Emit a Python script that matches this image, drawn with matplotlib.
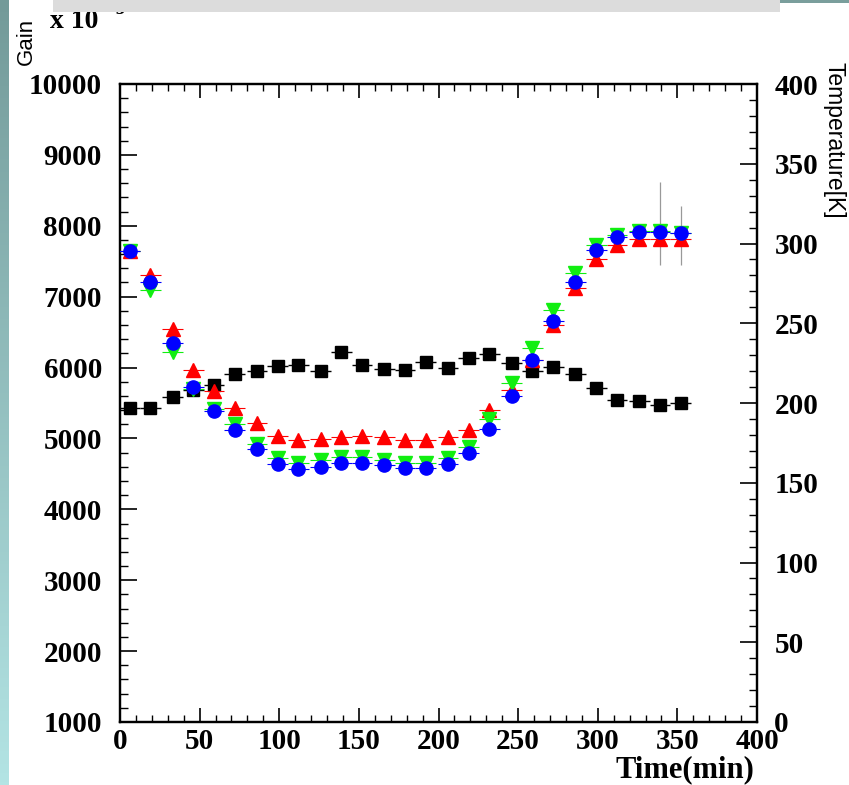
import numpy as np
import matplotlib
matplotlib.use("Agg")
import matplotlib.pyplot as plt
from matplotlib.ticker import MultipleLocator
from matplotlib.patches import Rectangle

W, H = 849, 785

# ======================= data ======================= #
time = [6, 19, 33, 46, 59, 72, 86, 99, 112, 126, 139, 152, 166, 179,
        192, 206, 219, 232, 246, 259, 272, 286, 299, 312, 326, 339, 352]

temp = [197, 197, 204, 208, 211, 218, 220, 223, 224, 220, 232, 224, 221.5, 221,
        226, 222, 228, 231, 225, 220, 222.5, 218, 209.5, 202, 201, 199, 200]

gain_red = [7650, 7300, 6550, 5965, 5670, 5425, 5215, 5035, 4980, 4990, 5015, 5035, 5015, 4980,
            4980, 5025, 5120, 5400, 5680, 6100, 6600, 7120, 7530, 7730, 7820, 7820, 7810]

gain_green = [7640, 7090, 6225, 5700, 5410, 5200, 4920, 4720, 4650, 4695, 4735, 4735, 4700, 4650,
              4650, 4720, 4885, 5270, 5780, 6270, 6810, 7330, 7730, 7870, 7920, 7920, 7900]

gain_blue = [7650, 7210, 6340, 5730, 5390, 5120, 4850, 4640, 4565, 4600, 4650, 4650, 4625, 4580,
             4580, 4635, 4800, 5140, 5600, 6105, 6650, 7200, 7660, 7845, 7915, 7915, 7905]

# vertical errors only visible on the last two points
err_lo = [0] * 25 + [470, 460]
err_hi = [0] * 25 + [700, 380]
xerr = 6.5

# ======================= figure ======================= #
fig = plt.figure(figsize=(W / 100, H / 100), dpi=100)
fig.patch.set_facecolor("white")

# slide decoration: teal strip on the left, grey title box on top
strip = fig.add_axes([0, 0, 9 / W, 1])
grad = np.linspace(0, 1, 256).reshape(-1, 1)
cmap = matplotlib.colors.LinearSegmentedColormap.from_list("s", ["#b3e4e4", "#739a99"])
strip.imshow(grad, aspect="auto", cmap=cmap, origin="lower")
strip.axis("off")
fig.patches.append(Rectangle((53 / W, 1 - 12 / H), 727 / W, 12 / H, transform=fig.transFigure,
                             facecolor="#dcdcdc", edgecolor="none", zorder=5))
fig.patches.append(Rectangle((780 / W, 1 - 2.5 / H), 69 / W, 2.5 / H, transform=fig.transFigure,
                             facecolor="#7a9e9c", edgecolor="none", zorder=5))

ax = fig.add_axes([120 / W, 1 - 722 / H, 637 / W, 638 / H])
ax2 = ax.twinx()

tickfont = dict(family="Liberation Serif", weight="bold", size=21)

# temperature on the right axis
ax2.errorbar(time, temp, xerr=xerr, fmt="s", color="black", ms=9, elinewidth=1,
             capsize=0, zorder=2)

# gain on the left axis
ax.set_zorder(ax2.get_zorder() + 1)
ax.patch.set_visible(False)
ax.errorbar(time, gain_red, xerr=xerr, fmt="^", color="#ff0000", ms=9.5, elinewidth=0.8,
            capsize=0, zorder=3)
ax.errorbar(time, gain_green, xerr=xerr, fmt="v", color="#11ee11", ms=9.5, elinewidth=0.8,
            capsize=0, zorder=4)
ax.errorbar(time, gain_blue, xerr=xerr, fmt="o", color="#0000ff", ms=9.5, elinewidth=0.8,
            capsize=0, zorder=5)
ax.errorbar(time, gain_blue, yerr=[err_lo, err_hi], fmt="none", ecolor="#999999",
            elinewidth=0.9, capsize=0, zorder=1)

ax.set_xlim(0, 400)
ax.set_ylim(1000, 10000)
ax2.set_ylim(0, 400)

ax.xaxis.set_major_locator(MultipleLocator(50))
ax.xaxis.set_minor_locator(MultipleLocator(10))
ax.yaxis.set_major_locator(MultipleLocator(1000))
ax.yaxis.set_minor_locator(MultipleLocator(200))
ax2.yaxis.set_major_locator(MultipleLocator(50))
ax2.yaxis.set_minor_locator(MultipleLocator(10))

ax.tick_params(axis="both", which="both", direction="in", top=True, right=False, colors="black")
ax.tick_params(axis="x", which="major", length=10, width=1.2, pad=4)
ax.tick_params(axis="x", which="minor", length=5, width=1)
ax.tick_params(axis="y", which="major", length=12, width=1.2, pad=13)
ax.tick_params(axis="y", which="minor", length=6, width=1)
ax2.tick_params(axis="y", which="both", direction="in")
ax2.tick_params(axis="y", which="major", length=12, width=1.2, pad=12.5)
ax2.tick_params(axis="y", which="minor", length=6, width=1)

for lab in ax.get_xticklabels() + ax.get_yticklabels() + ax2.get_yticklabels():
    lab.set_fontproperties(matplotlib.font_manager.FontProperties(**tickfont))

for a in (ax, ax2):
    for s in a.spines.values():
        s.set_linewidth(1.6)

# axis titles placed the way the original canvas has them
fig.text(26 / W, 1 - 41 / H, "Gain", rotation=90, ha="center", va="center",
         family="Liberation Sans", size=16)
fig.text(50 / W, 1 - 21 / H, "x 10", ha="left", va="center",
         family="Liberation Serif", weight="bold", size=20)
fig.text(110 / W, 1 - 9 / H, "-3", ha="left", va="center",
         family="Liberation Serif", weight="bold", size=13, zorder=1)
fig.text(834 / W, 1 - 140 / H, "Temperature[K]", rotation=-90, ha="center", va="center",
         family="Liberation Sans", size=16.5)
fig.text(754 / W, 1 - 770 / H, "Time(min)", ha="right", va="center",
         family="Liberation Serif", weight="bold", size=22)

fig.savefig("out.png", dpi=100)
